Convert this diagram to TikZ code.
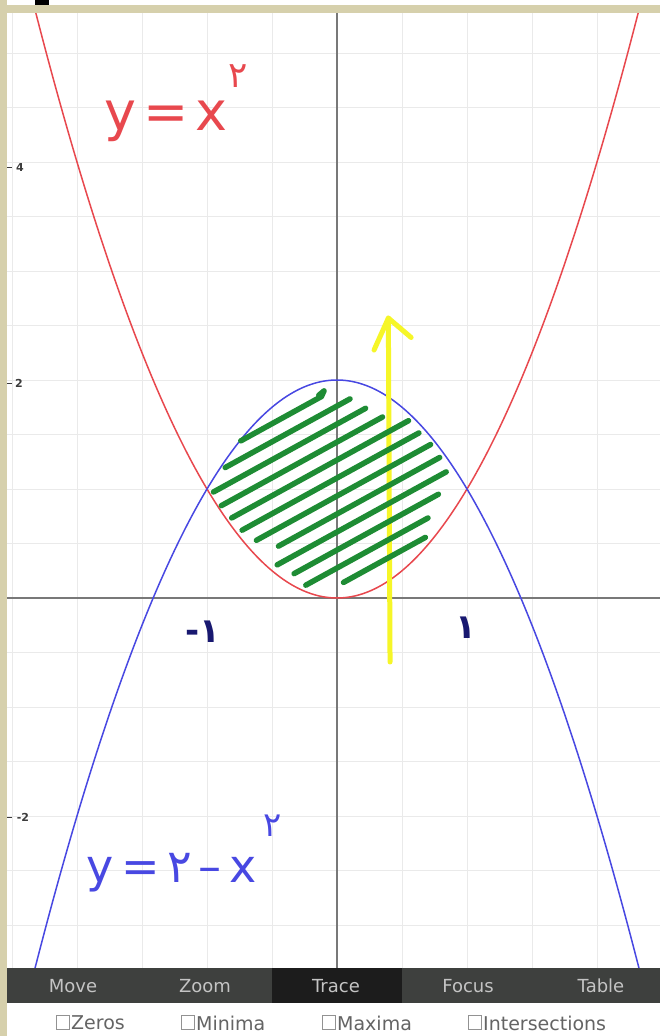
\documentclass[tikz,border=0pt]{standalone}
\usepackage{fontspec}
\setmainfont{DejaVu Sans}
\newfontfamily\arabicfont[Script=Arabic]{DejaVu Sans}
\definecolor{tanband}{RGB}{214,208,172}
\definecolor{gridc}{RGB}{234,234,234}
\definecolor{axisc}{RGB}{120,120,120}
\definecolor{redc}{RGB}{232,72,78}
\definecolor{bluec}{RGB}{72,72,226}
\definecolor{hatchc}{RGB}{30,140,52}
\definecolor{yellowc}{RGB}{246,246,40}
\definecolor{navyc}{RGB}{24,24,112}
\definecolor{tbdark}{RGB}{62,64,62}
\definecolor{tbsel}{RGB}{28,28,28}
\definecolor{tbtext}{RGB}{196,196,196}
\definecolor{cbtext}{RGB}{100,100,100}
\definecolor{ticktext}{RGB}{60,60,60}
\begin{document}
\begin{tikzpicture}[x=1pt,y=-1pt,
  gridline/.style={draw=gridc,line width=0.9pt},
  axisline/.style={draw=axisc,line width=1.4pt},
  curve/.style={line width=1.5pt},
  hatch/.style={draw=hatchc,line width=5.5pt,line cap=round,line join=round},
  arrowline/.style={draw=yellowc,line width=5pt,line cap=round,line join=round},
  tbtxt/.style={text=tbtext,font=\fontsize{18}{18}\selectfont,inner sep=0pt},
  cbtxt/.style={text=cbtext,font=\fontsize{19}{19}\selectfont,inner sep=0pt,anchor=west},
  cbox/.style={draw=cbtext!70,fill=white,line width=0.9pt},
  ticklbl/.style={text=ticktext,font=\bfseries\fontsize{11}{11}\selectfont,inner sep=0pt}
]
\useasboundingbox (0,0) rectangle (660,1036);
\fill[white] (0,0) rectangle (660,1036);
% frame
\fill[tanband] (0,0) rectangle (7,1036);
\fill[tanband] (0,5) rectangle (660,13);
\fill[black] (35,0) rectangle (49,5);
% plot area
\begin{scope}
\clip (7,13) rectangle (660,968);
\begin{scope}[shift={(337,598)},x=130pt,y=109pt]
  \foreach \i in {-5,...,5} \draw[gridline] (\i*0.5,-3.7) -- (\i*0.5,5.7);
  \foreach \j in {-7,...,11} \draw[gridline] (-2.7,\j*0.5) -- (2.6,\j*0.5);
  \draw[axisline] (-2.7,0) -- (2.6,0);
  \draw[axisline] (0,-3.7) -- (0,5.7);
  \draw[curve,draw=redc] plot[domain=-2.36:2.36,samples=120,smooth] (\x,{\x*\x});
  \draw[curve,draw=bluec] plot[domain=-2.36:2.36,samples=120,smooth] (\x,{2-\x*\x});
  % yellow arrow
  \coordinate (ybot) at (0.408,-0.587);
  \coordinate (ytip) at (0.395,2.568);
  \coordinate (ylb) at (0.285,2.275);
  \coordinate (yrb) at (0.570,2.390);
  \draw[arrowline] (ybot) -- (ytip);
  \draw[arrowline] (ylb) -- (ytip) -- (yrb);
  % green hatching
  \foreach \b/\xl/\xr in {1.927/-0.74/-0.12, 1.761/-0.86/0.10, 1.596/-0.95/0.22,
      1.431/-0.89/0.35, 1.266/-0.81/0.55, 1.101/-0.73/0.63, 0.936/-0.62/0.72,
      0.771/-0.45/0.79, 0.606/-0.46/0.84, 0.440/-0.33/0.78, 0.275/-0.24/0.70,
      0.110/0.05/0.68}
    \draw[hatch] (\xl,{\b+0.656*\xl}) -- (\xr,{\b+0.656*\xr});
  \draw[hatch] (-0.12,{1.927-0.656*0.12}) -- (-0.10,1.90) -- (-0.14,1.86);
\end{scope}
\end{scope}
% tick marks and labels
\draw[ticktext,line width=0.8pt] (7,167) -- (12,167);
\draw[ticktext,line width=0.8pt] (7,383) -- (12,383);
\draw[ticktext,line width=0.8pt] (7,817) -- (12,817);
\node[ticklbl] (t4) at (20,167) {4};
\node[ticklbl] (t2) at (19,383) {2};
\node[ticklbl] (tm2) at (23,817) {-2};
% handwritten labels
\node[anchor=base west,inner sep=0pt,text=redc,font=\fontsize{54}{54}\selectfont] (redlab) at (104,130) {y\hspace{7pt}=\hspace{7pt}x};
\node[text=redc,inner sep=0pt,font=\arabicfont\fontsize{36}{36}\selectfont] (redexp) at (238,76) {۲};
\node[anchor=base west,inner sep=0pt,text=bluec,font=\fontsize{46}{46}\selectfont] (bluelab) at (86,882) {y\hspace{8pt}=\hspace{8pt}{\arabicfont ۲}\hspace{6pt}–\hspace{8pt}x};
\node[text=bluec,inner sep=0pt,font=\arabicfont\fontsize{34}{34}\selectfont] (blueexp) at (273,826) {۲};
\node[text=navyc,inner sep=0pt,font=\bfseries\fontsize{34}{34}\selectfont] (mone) at (203,632) {-{\arabicfont ۱}};
\node[text=navyc,inner sep=0pt,font=\arabicfont\bfseries\fontsize{34}{34}\selectfont] (one) at (466,628) {۱};
% toolbar
\fill[tbdark] (7,968) rectangle (660,1003);
\fill[tbsel] (272,968) rectangle (402,1003);
\node[tbtxt] (bmove) at (73,986) {Move};
\node[tbtxt] (bzoom) at (205,986) {Zoom};
\node[tbtxt] (btrace) at (336,986) {Trace};
\node[tbtxt] (bfocus) at (468,986) {Focus};
\node[tbtxt] (btable) at (601,986) {Table};
% checkbox row
\draw[cbox] (56,1015) rectangle (69,1029);
\node[cbtxt] (czeros) at (71,1023) {Zeros};
\draw[cbox] (181,1015) rectangle (194,1029);
\node[cbtxt] (cminima) at (196,1023) {Minima};
\draw[cbox] (322,1015) rectangle (335,1029);
\node[cbtxt] (cmaxima) at (337,1023) {Maxima};
\draw[cbox] (468,1015) rectangle (481,1029);
\node[cbtxt] (cinter) at (483,1023) {Intersections};
\end{tikzpicture}
\end{document}
